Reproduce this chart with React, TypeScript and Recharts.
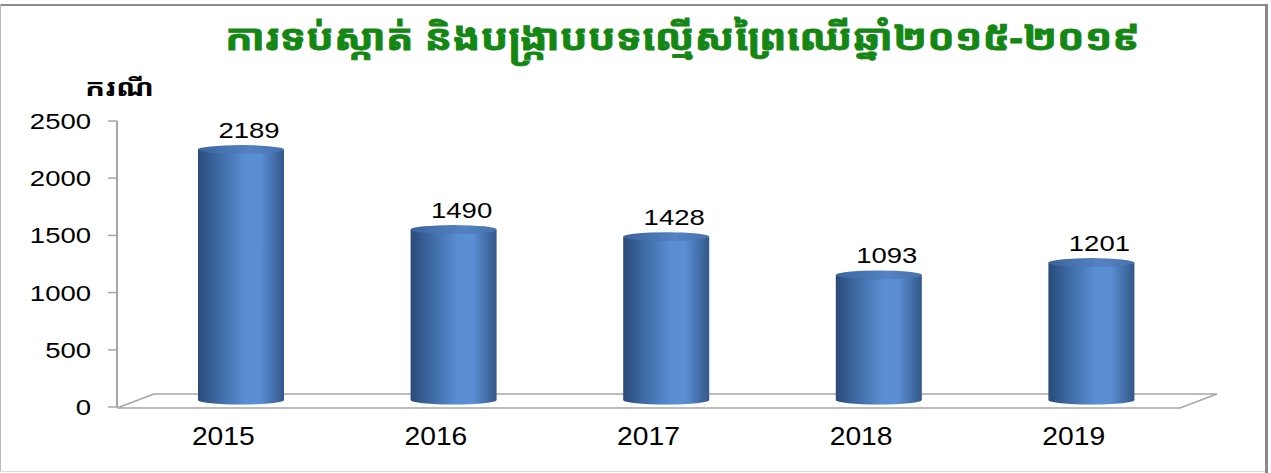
import React from 'react';
import { BarChart, Bar, XAxis, YAxis, LabelList } from 'recharts';

const years = ['2015', '2016', '2017', '2018', '2019'];
const cases = [2189, 1490, 1428, 1093, 1201];
const yTicks = [0, 500, 1000, 1500, 2000, 2500];
const titleText = 'ការទប់ស្កាត់ និងបង្ក្រាបបទល្មើសព្រៃឈើឆ្នាំ២០១៥-២០១៩';
const yLabel = 'ករណី';

const data = years.map((y, i) => ({ year: y, cases: cases[i] }));

const W = 1271;
const H = 473;
const DX = 18;
const DY = -7;
const RY = 4.5;
const NUM_FONT = '"Liberation Sans", Arial, sans-serif';
const KH_FONT = '"Noto Sans Khmer", "Khmer OS", "Noto Sans", sans-serif';

const Cylinder = (props: any) => {
  const { x, y, width, height } = props;
  if (width == null || height == null) return null;
  const x0 = x + DX;
  const top = y + DY;
  const bot = y + height + DY;
  const rx = width / 2;
  const d = `M${x0},${top} L${x0},${bot} A${rx},${RY} 0 0 0 ${x0 + width},${bot} L${x0 + width},${top} Z`;
  return (
    <g>
      <path d={d} fill="url(#cylBody)" />
      <ellipse cx={x0 + rx} cy={top} rx={rx} ry={RY} fill="url(#cylTop)" />
    </g>
  );
};

const ValueLabel = (p: any) => {
  const cx = p.x + p.width / 2 + DX + 8;
  const cy = p.y + DY - 12;
  return (
    <text
      transform={`translate(${cx},${cy}) scale(1.25,1)`}
      textAnchor="middle"
      fontSize={22}
      fontFamily={NUM_FONT}
      fill="#000"
    >
      {p.value}
    </text>
  );
};

const XTick = (p: any) => (
  <text
    transform={`translate(${p.x},${p.y + 38}) scale(1.13,1)`}
    textAnchor="middle"
    fontSize={25}
    fontFamily={NUM_FONT}
    fill="#000"
  >
    {p.payload.value}
  </text>
);

const YTick = (p: any) => (
  <text
    transform={`translate(${p.x},${p.y + 8}) scale(1.25,1)`}
    textAnchor="end"
    fontSize={22}
    fontFamily={NUM_FONT}
    fill="#000"
  >
    {p.payload.value}
  </text>
);

export default function App() {
  return (
    <div style={{ position: 'absolute', left: 0, top: 0, width: W, height: H, background: '#fff' }}>
      <svg width={W} height={H} style={{ position: 'absolute', left: 0, top: 0 }}>
        {/* frame */}
        <line x1={0} y1={5} x2={1268} y2={5} stroke="#8a8a8a" strokeWidth={2} />
        <line x1={0.5} y1={4} x2={0.5} y2={472} stroke="#b8b8b8" strokeWidth={1} />
        <line x1={1266.5} y1={4} x2={1266.5} y2={473} stroke="#8a8a8a" strokeWidth={3} />
        <line x1={0} y1={471.5} x2={1265} y2={471.5} stroke="#dcdcdc" strokeWidth={1} />
        {/* title */}
        <text
          x={225}
          y={50}
          textLength={915}
          lengthAdjust="spacingAndGlyphs"
          fontSize={36}
          fontWeight="bold"
          fontFamily={KH_FONT}
          fill="#138613"
          stroke="#138613"
          strokeWidth={0.8}
        >
          {titleText}
        </text>
        {/* y axis unit label */}
        <text
          x={85}
          y={96}
          textLength={69}
          lengthAdjust="spacingAndGlyphs"
          fontSize={24}
          fontWeight="bold"
          fontFamily={KH_FONT}
          fill="#000"
        >
          {yLabel}
        </text>
        {/* 3D floor */}
        <polygon
          points="117,408 1180,408 1217,394 154,394"
          fill="#fff"
          stroke="#a6a6a6"
          strokeWidth={1.6}
        />
      </svg>
      <div style={{ position: 'absolute', left: 0, top: 0 }}>
        <BarChart
          width={W}
          height={H}
          data={data}
          margin={{ top: 121, right: 91, bottom: 36, left: 0 }}
        >
          <defs>
            <linearGradient id="cylBody" x1="0" y1="0" x2="1" y2="0">
              <stop offset="0%" stopColor="#2a4a7a" />
              <stop offset="25%" stopColor="#3f6ba5" />
              <stop offset="55%" stopColor="#5a8ed3" />
              <stop offset="72%" stopColor="#5b8fd4" />
              <stop offset="100%" stopColor="#33578a" />
            </linearGradient>
            <linearGradient id="cylTop" x1="0" y1="0" x2="1" y2="0">
              <stop offset="0%" stopColor="#3b64a0" />
              <stop offset="60%" stopColor="#5482c2" />
              <stop offset="100%" stopColor="#4671ad" />
            </linearGradient>
          </defs>
          <XAxis
            dataKey="year"
            axisLine={false}
            tickLine={false}
            tickSize={0}
            tickMargin={0}
            height={30}
            tick={<XTick />}
            interval={0}
          />
          <YAxis
            type="number"
            domain={[0, 2500]}
            ticks={yTicks}
            width={117}
            axisLine={{ stroke: '#a6a6a6', strokeWidth: 2 }}
            tickLine={{ stroke: '#a6a6a6', strokeWidth: 1.5 }}
            tickSize={9}
            tickMargin={17}
            tick={<YTick />}
            interval={0}
          />
          <Bar dataKey="cases" barSize={86} shape={<Cylinder />} isAnimationActive={false}>
            <LabelList dataKey="cases" content={<ValueLabel />} />
          </Bar>
        </BarChart>
      </div>
    </div>
  );
}
